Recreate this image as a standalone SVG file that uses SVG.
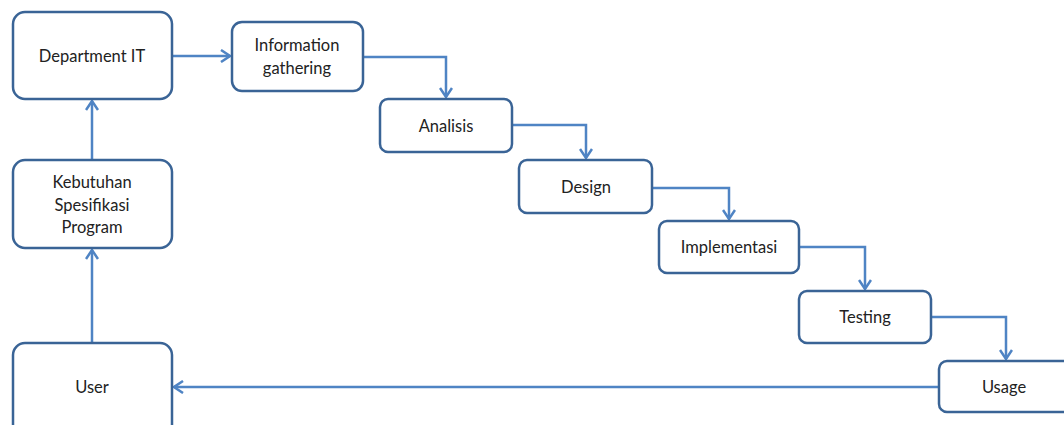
<svg xmlns="http://www.w3.org/2000/svg" width="1064" height="425" viewBox="0 0 1064 425">
  <style>
    .box { fill: #ffffff; fill-opacity: 0.6; stroke: #3a6496; stroke-width: 2.5; }
    .lbl { font-family: Lato, "Open Sans", sans-serif; font-size: 16.5px; fill: #222222; text-anchor: middle; dominant-baseline: central; }
    .con { fill: none; stroke: #4f84c4; stroke-width: 2.5; marker-end: url(#arr); }
  </style>
  <defs>
    <marker id="arr" viewBox="0 0 14 14" refX="12" refY="7" markerWidth="14" markerHeight="14" markerUnits="userSpaceOnUse" orient="auto">
      <path d="M3,1 L12,7 L3,13" fill="none" stroke="#4f84c4" stroke-width="2.5" stroke-linejoin="miter"/>
    </marker>
  </defs>
  <rect width="1064" height="425" fill="#ffffff"/>

  <g id="connectors">
    <path class="con" d="M172,56 H230"/>
    <path class="con" d="M363,57 H446 V97"/>
    <path class="con" d="M512,125 H586 V158"/>
    <path class="con" d="M652,188 H729 V219"/>
    <path class="con" d="M799,247 H865 V289"/>
    <path class="con" d="M931,317 H1006 V359"/>
    <path class="con" d="M939,387 H174"/>
    <path class="con" d="M92,343 V250"/>
    <path class="con" d="M92,160 V101"/>
  </g>

  <g id="department-it">
    <rect class="box" x="13" y="12" width="159" height="87" rx="12"/>
    <text class="lbl" x="92" y="56">Department IT</text>
  </g>
  <g id="information-gathering">
    <rect class="box" x="232" y="22" width="131" height="69" rx="10"/>
    <text class="lbl" x="297" y="45">Information</text>
    <text class="lbl" x="297" y="68">gathering</text>
  </g>
  <g id="analisis">
    <rect class="box" x="380" y="99" width="132" height="53" rx="8"/>
    <text class="lbl" x="446" y="126">Analisis</text>
  </g>
  <g id="design">
    <rect class="box" x="519" y="160" width="133" height="53" rx="8"/>
    <text class="lbl" x="586" y="187">Design</text>
  </g>
  <g id="implementasi">
    <rect class="box" x="659" y="221" width="140" height="52" rx="8"/>
    <text class="lbl" x="729" y="247">Implementasi</text>
  </g>
  <g id="testing">
    <rect class="box" x="799" y="291" width="132" height="52" rx="8"/>
    <text class="lbl" x="865" y="317">Testing</text>
  </g>
  <g id="usage">
    <rect class="box" x="939" y="361" width="132" height="51" rx="8"/>
    <text class="lbl" x="1004" y="387">Usage</text>
  </g>
  <g id="kebutuhan-spesifikasi-program">
    <rect class="box" x="13" y="160" width="159" height="88" rx="12"/>
    <text class="lbl" x="92" y="182">Kebutuhan</text>
    <text class="lbl" x="92" y="205">Spesifikasi</text>
    <text class="lbl" x="92" y="227">Program</text>
  </g>
  <g id="user">
    <rect class="box" x="13" y="343" width="159" height="95" rx="12"/>
    <text class="lbl" x="92" y="387">User</text>
  </g>
</svg>
